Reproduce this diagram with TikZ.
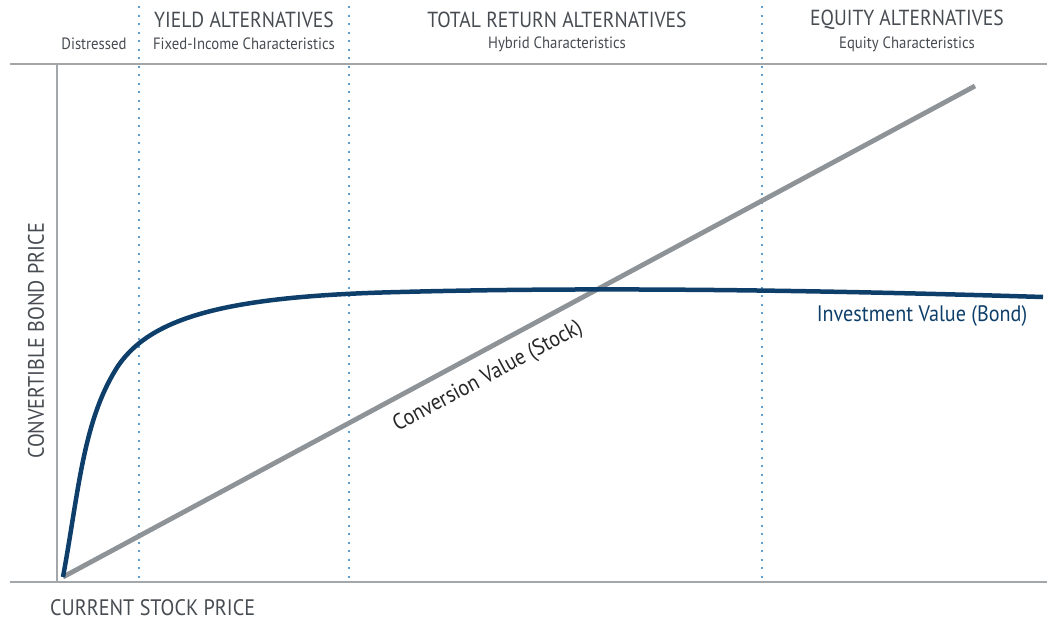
\documentclass[tikz,border=0pt]{standalone}
\usepackage{fontspec}
\setmainfont[FakeStretch=0.9]{PT Sans}
\usepackage{tikz}
\usetikzlibrary{calc}
\definecolor{navy}{HTML}{0E3F6B}
\definecolor{stockgray}{HTML}{8E9397}
\definecolor{axisgray}{HTML}{A3A7AA}
\definecolor{dotblue}{HTML}{5E9FD3}
\definecolor{textgray}{HTML}{474C52}
\newcommand{\zonehead}[4]{\node[head] (#1) at (#2,20) {#3}; \node[sub] (#1s) at (#2,44) {#4};}
\newcommand{\zonesep}[2]{\draw[sep] (#2,6) -- (#2,580); \coordinate (#1) at (#2,580);}
\tikzset{
  head/.style={text=textgray, font=\fontsize{21.8}{24}\selectfont, inner sep=0pt},
  sub/.style={text=textgray, font=\fontsize{16.4}{18}\selectfont, inner sep=0pt},
  axislabel/.style={text=textgray, font=\fontsize{22.4}{24}\selectfont, inner sep=0pt},
  curvelabel/.style={font=\fontsize{22.4}{24}\selectfont, inner sep=0pt},
  sep/.style={dotblue, line width=2.3pt, dash pattern=on 2.3pt off 6.2pt},
  frame/.style={axisgray, line width=1.5pt}
}
\begin{document}
\begin{tikzpicture}[x=1pt,y=-1pt]
        \useasboundingbox (0,0) rectangle (1047,622);
        % frame
        \draw[frame] (10,64) -- (1047,64);
        \draw[frame] (10,582) -- (1047,582);
        \draw[frame] (57,64) -- (57,582);
        % zone separators
        \zonesep{sA}{139}
        \zonesep{sB}{349}
        \zonesep{sC}{762}
        % zone headers
        \node[sub] (dist) at (94,44) {Distressed};
        \zonehead{yield}{244}{YIELD ALTERNATIVES}{Fixed-Income Characteristics}
        \zonehead{total}{557}{TOTAL RETURN ALTERNATIVES}{Hybrid Characteristics}
        \zonehead{equity}{907}{EQUITY ALTERNATIVES}{Equity Characteristics}
        % axis labels
        \node[axislabel, rotate=90] (ylab) at (36,341) {CONVERTIBLE BOND PRICE};
        \node[axislabel, anchor=west] (xlab) at (50,608) {CURRENT STOCK PRICE};
        % conversion value
        \coordinate (o) at (63,577);
        \coordinate (stock) at (975,86);
        \draw[stockgray, line width=4.8pt] (o) -- (stock);
        \node[curvelabel, text=black!85, rotate=28.3] (conv) at (488,377) {Conversion Value (Stock)};
        % investment value
        \coordinate (knee) at (118,366);
        \coordinate (flat) at (400,292);
        \coordinate (bondend) at (1043,297);
        \draw[navy, line width=4.5pt] (o) .. controls (79,490) and (83,420) .. (knee)
          .. controls (152,316) and (230,296) .. (flat)
          .. controls (550,288) and (750,288) .. (bondend);
        \node[curvelabel, text=navy] (bond) at (922,316) {Investment Value (Bond)};
\end{tikzpicture}
\end{document}
